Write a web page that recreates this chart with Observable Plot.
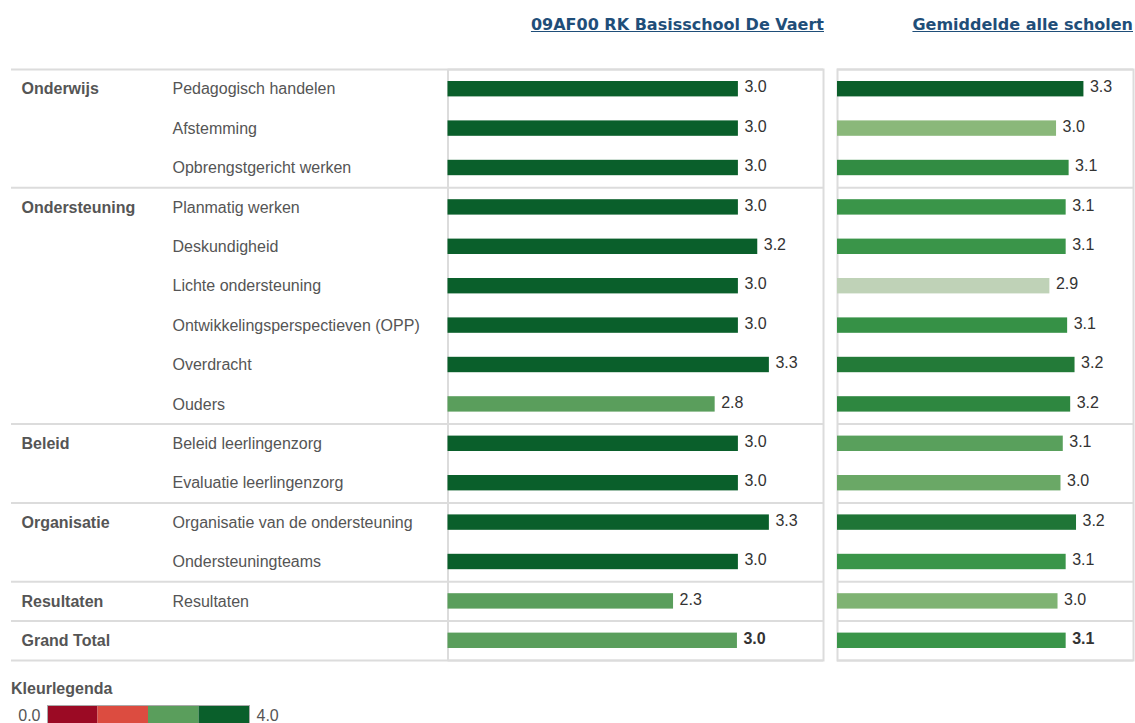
<!DOCTYPE html>
<html>
<head>
<meta charset="utf-8">
<script src="https://cdn.jsdelivr.net/npm/d3@7"></script>
<script src="https://cdn.jsdelivr.net/npm/@observablehq/plot@0.6"></script>
<style>
  html, body { margin: 0; padding: 0; background: #fff; }
  #root { position: relative; width: 1135px; height: 723px; overflow: hidden; font-family: "Liberation Sans", Arial, sans-serif; }
  .titel { position: absolute; top: 15px; font-family: "DejaVu Sans", sans-serif; font-weight: bold; font-size: 16px; line-height: 20px; color: #1f4e79; text-decoration: underline; white-space: nowrap; }
  .paneel { position: absolute; }
  .paneel svg { overflow: visible; }
  #legendaTitel { position: absolute; left: 11px; top: 680px; font-weight: bold; font-size: 16px; color: #555; }
</style>
</head>
<body>
<div id="root">
  <div class="titel" id="titel1" style="right:311px"></div>
  <div class="titel" id="titel2" style="right:2px"></div>
  <div class="paneel" id="labels" style="left:11px; top:68px"></div>
  <div class="paneel" id="school" style="left:446px; top:68px"></div>
  <div class="paneel" id="gemiddelde" style="left:835px; top:68px"></div>
  <div id="legendaTitel">Kleurlegenda</div>
  <div class="paneel" id="legenda" style="left:0px; top:704px"></div>
</div>
<script>
// ---- data ----
const titels = ["09AF00 RK Basisschool De Vaert", "Gemiddelde alle scholen"];
const groepen = ["Onderwijs", "Ondersteuning", "Beleid", "Organisatie", "Resultaten", "Grand Total"];
const groepGrootte = [3, 6, 2, 2, 1, 1];
const indicatoren = [
  "Pedagogisch handelen", "Afstemming", "Opbrengstgericht werken",
  "Planmatig werken", "Deskundigheid", "Lichte ondersteuning",
  "Ontwikkelingsperspectieven (OPP)", "Overdracht", "Ouders",
  "Beleid leerlingenzorg", "Evaluatie leerlingenzorg",
  "Organisatie van de ondersteuning", "Ondersteuningteams",
  "Resultaten", ""
];
const schoolScores = [3.0, 3.0, 3.0, 3.0, 3.2, 3.0, 3.0, 3.32, 2.76, 3.0, 3.0, 3.32, 3.0, 2.33, 2.99];
const gemiddeldeScores = [3.33, 2.96, 3.13, 3.09, 3.09, 2.87, 3.11, 3.21, 3.151, 3.051, 3.02, 3.23, 3.09, 2.98, 3.09];
const legendaGrenzen = [0, 1, 2, 3, 4];

// ---- build rows ----
const rows = [];
let idx = 0;
groepen.forEach((g, gi) => {
  for (let k = 0; k < groepGrootte[gi]; k++) {
    rows.push({
      i: idx, groep: g, eerste: k === 0, indicator: indicatoren[idx],
      school: schoolScores[idx], gem: gemiddeldeScores[idx], totaal: g === "Grand Total"
    });
    idx++;
  }
});
const nRows = rows.length;
const grenzen = Array.from(d3.cumsum([0, ...groepGrootte]));

const lijn = "#dcdcdc";
const tekstKleur = "#555";
const waardeKleur = "#333";
const H = 593;

const kwartielKleuren = {
  type: "threshold", domain: [1, 2, 3],
  range: ["#9b0a24", "#dc4c40", "#5a9e5c", "#0a5f2b"]
};
const groenVerloop = {
  type: "linear",
  domain: [2.87, 2.96, 3.05, 3.09, 3.21, 3.33],
  range: ["#bfd2b7", "#8ab87a", "#5aa05c", "#3a9549", "#237a38", "#0b5e2a"],
  clamp: true
};

document.getElementById("titel1").textContent = titels[0];
document.getElementById("titel2").textContent = titels[1];

// ---- labels panel ----
const labels = Plot.plot({
  width: 436, height: H,
  marginTop: 1, marginBottom: 1, marginLeft: 0, marginRight: 0,
  style: { fontFamily: "Liberation Sans, Arial, sans-serif", fontSize: "16px", background: "transparent" },
  x: { domain: [0, 1], axis: null },
  y: { domain: [0, nRows], reverse: true, axis: null },
  marks: [
    Plot.ruleY(grenzen, { stroke: lijn, strokeWidth: 2 }),
    Plot.text(rows.filter(d => d.eerste), {
      y: d => d.i + 0.5, text: "groep", frameAnchor: "left", dx: 10,
      fill: tekstKleur, fontWeight: "bold", fontSize: 16
    }),
    Plot.text(rows, {
      y: d => d.i + 0.5, text: "indicator", frameAnchor: "left", dx: 161,
      fill: tekstKleur, fontSize: 16
    })
  ]
});
document.getElementById("labels").append(labels);

// ---- bar panels ----
function balkPaneel(key, width, marginLeft, marginRight, xmax, kleur) {
  return Plot.plot({
    width, height: H,
    marginTop: 1, marginBottom: 1, marginLeft, marginRight,
    style: { fontFamily: "Liberation Sans, Arial, sans-serif", fontSize: "16px", background: "transparent" },
    x: { domain: [0, xmax], axis: null },
    y: { domain: [0, nRows], reverse: true, axis: null },
    color: kleur,
    marks: [
      Plot.ruleY(grenzen, { stroke: lijn, strokeWidth: 2 }),
      Plot.frame({ stroke: lijn, strokeWidth: 2 }),
      Plot.rectX(rows, {
        x: key, y1: "i", y2: d => d.i + 1, insetTop: 12, insetBottom: 12, fill: key
      }),
      Plot.text(rows.filter(d => !d.totaal), {
        x: key, y: d => d.i + 0.5, text: d => d[key].toFixed(1),
        textAnchor: "start", dx: 6, dy: -2, fill: waardeKleur, fontSize: 16
      }),
      Plot.text(rows.filter(d => d.totaal), {
        x: key, y: d => d.i + 0.5, text: d => d[key].toFixed(1),
        textAnchor: "start", dx: 6, dy: -2, fill: waardeKleur, fontSize: 16, fontWeight: "bold"
      })
    ]
  });
}
document.getElementById("school").append(balkPaneel("school", 378, 1.5, 1, 375.5 / 96.8, kwartielKleuren));
document.getElementById("gemiddelde").append(balkPaneel("gem", 299, 2, 1, 296 / 74, groenVerloop));

// ---- legend ----
const legenda = Plot.plot({
  width: 290, height: 21,
  marginTop: 1, marginBottom: 0, marginLeft: 47, marginRight: 41,
  style: { fontFamily: "Liberation Sans, Arial, sans-serif", fontSize: "16px", background: "transparent" },
  x: { domain: [legendaGrenzen[0], legendaGrenzen[legendaGrenzen.length - 1]], axis: null },
  color: kwartielKleuren,
  marks: [
    Plot.rect(legendaGrenzen.slice(0, -1), { x1: d => d, x2: d => d + 1, fill: d => d }),
    Plot.frame({ stroke: "#aaa", strokeWidth: 1 }),
    Plot.text([legendaGrenzen[0]], { x: d => d, text: d => d.toFixed(1), textAnchor: "end", dx: -7, frameAnchor: "middle", fill: tekstKleur, fontSize: 16 }),
    Plot.text([legendaGrenzen[legendaGrenzen.length - 1]], { x: d => d, text: d => d.toFixed(1), textAnchor: "start", dx: 7, frameAnchor: "middle", fill: tekstKleur, fontSize: 16 })
  ]
});
document.getElementById("legenda").append(legenda);
</script>
</body>
</html>
